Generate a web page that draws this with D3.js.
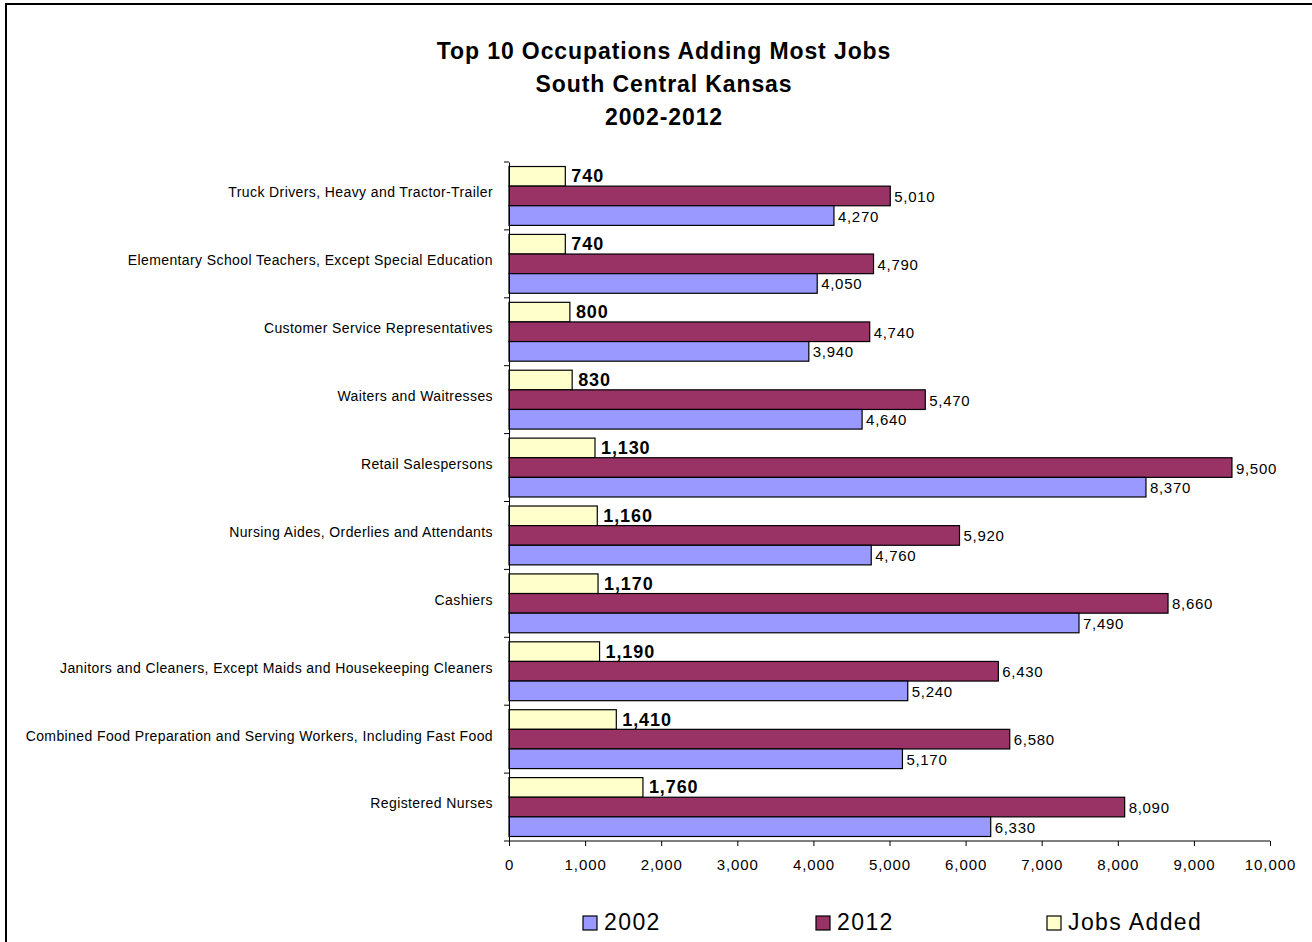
<!DOCTYPE html>
<html>
<head>
<meta charset="utf-8">
<script src="https://cdn.jsdelivr.net/npm/d3@7"></script>
<style>
  body { margin: 0; background: #fff; }
  svg { display: block; font-family: "Liberation Sans", Arial, sans-serif; }
</style>
</head>
<body>
<svg id="chart" width="1312" height="942"></svg>
<script>
const occupations = [
  "Truck Drivers, Heavy and Tractor-Trailer",
  "Elementary School Teachers, Except Special Education",
  "Customer Service Representatives",
  "Waiters and Waitresses",
  "Retail Salespersons",
  "Nursing Aides, Orderlies and Attendants",
  "Cashiers",
  "Janitors and Cleaners, Except Maids and Housekeeping Cleaners",
  "Combined Food Preparation and Serving Workers, Including Fast Food",
  "Registered Nurses"
];
const jobs2002 = [4270, 4050, 3940, 4640, 8370, 4760, 7490, 5240, 5170, 6330];
const jobs2012 = [5010, 4790, 4740, 5470, 9500, 5920, 8660, 6430, 6580, 8090];
const jobsAdded = [740, 740, 800, 830, 1130, 1160, 1170, 1190, 1410, 1760];
const seriesNames = ["Jobs Added", "2012", "2002"];
const legendOrder = ["2002", "2012", "Jobs Added"];
const seriesColors = { "2002": "#9999ff", "2012": "#993366", "Jobs Added": "#ffffcc" };
const titleLines = ["Top 10 Occupations Adding Most Jobs", "South Central Kansas", "2002-2012"];
const xTicks = [0, 1000, 2000, 3000, 4000, 5000, 6000, 7000, 8000, 9000, 10000];

const svg = d3.select("#chart");
const fmt = d3.format(",");

// chart frame (runs off the right and bottom edge like the source)
svg.append("rect").attr("x", 6).attr("y", 4).attr("width", 1400).attr("height", 1000)
  .attr("fill", "#fff").attr("stroke", "#000").attr("stroke-width", 2);

svg.append("g").selectAll("text").data(titleLines).join("text")
  .attr("x", 664).attr("y", (d, i) => 59 + i * 33)
  .attr("text-anchor", "middle").attr("font-weight", "bold").attr("font-size", 23)
  .attr("letter-spacing", 0.9)
  .text(d => d);

const x = d3.scaleLinear().domain([0, 10000]).range([509, 1270]);
const y = d3.scaleBand().domain(occupations).range([162, 841]);
const ySub = d3.scaleBand().domain(seriesNames).range([0, y.bandwidth()]).paddingOuter(0.23);

const rows = occupations.map((o, i) => ({
  occ: o,
  vals: { "Jobs Added": jobsAdded[i], "2012": jobs2012[i], "2002": jobs2002[i] }
}));

const groups = svg.append("g").selectAll("g").data(rows).join("g")
  .attr("transform", d => `translate(0,${y(d.occ)})`);

groups.selectAll("rect").data(d => seriesNames.map(s => ({ s, v: d.vals[s] }))).join("rect")
  .attr("x", x(0)).attr("y", d => ySub(d.s))
  .attr("width", d => x(d.v) - x(0)).attr("height", ySub.bandwidth())
  .attr("fill", d => seriesColors[d.s]).attr("stroke", "#000").attr("stroke-width", 1.2);

groups.selectAll("text.val").data(d => seriesNames.map(s => ({ s, v: d.vals[s] }))).join("text")
  .attr("class", "val")
  .attr("x", d => x(d.v) + (d.s === "Jobs Added" ? 6 : 4))
  .attr("y", d => ySub(d.s) + ySub.bandwidth() / 2 + (d.s === "Jobs Added" ? 6 : 6))
  .attr("font-size", d => d.s === "Jobs Added" ? 18 : 15)
  .attr("letter-spacing", d => d.s === "Jobs Added" ? 0.9 : 0.7)
  .attr("font-weight", d => d.s === "Jobs Added" ? "bold" : "normal")
  .text(d => fmt(d.v));

// category axis
const yAxis = svg.append("g").attr("transform", `translate(${x(0)},0)`)
  .call(d3.axisLeft(y).tickSize(0).tickPadding(16));
yAxis.select(".domain").attr("stroke", "#000");
yAxis.selectAll("text").attr("font-size", 14)
  .attr("letter-spacing", 0.4).attr("dy", "0.1em").attr("fill", "#000");
yAxis.append("g").selectAll("line").data(occupations.concat(["end"])).join("line")
  .attr("x1", -5).attr("x2", 0)
  .attr("y1", (d, i) => i < occupations.length ? y(d) : y.range()[1])
  .attr("y2", (d, i) => i < occupations.length ? y(d) : y.range()[1])
  .attr("stroke", "#000");

// value axis
const xAxis = svg.append("g").attr("transform", "translate(0,841)")
  .call(d3.axisBottom(x).tickValues(xTicks).tickFormat(fmt).tickSize(5).tickPadding(13));
xAxis.select(".domain").attr("stroke", "#000").attr("d", `M${x(0)},0H${x(10000)}`);
xAxis.selectAll(".tick line").attr("stroke", "#000");
xAxis.selectAll("text").attr("font-size", 15).attr("letter-spacing", 0.9).attr("fill", "#000");

// legend
const legendX = { "2002": 583, "2012": 816, "Jobs Added": 1047 };
const legend = svg.append("g").selectAll("g").data(legendOrder).join("g")
  .attr("transform", d => `translate(${legendX[d]},916)`);
legend.append("rect").attr("width", 14).attr("height", 14)
  .attr("fill", d => seriesColors[d]).attr("stroke", "#000").attr("stroke-width", 1.2);
legend.append("text").attr("x", 21).attr("y", 14).attr("font-size", 23)
  .attr("letter-spacing", 1.4).text(d => d);
</script>
</body>
</html>
